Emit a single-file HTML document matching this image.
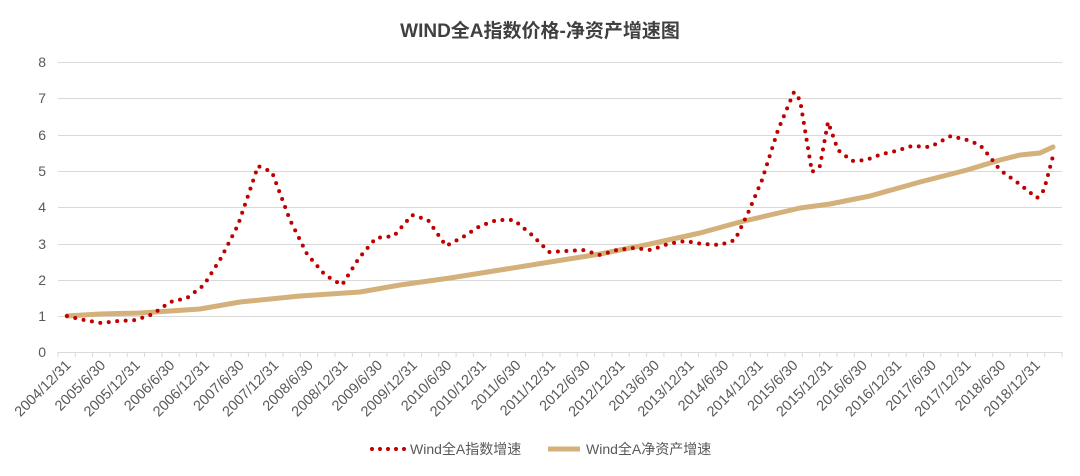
<!DOCTYPE html>
<html><head><meta charset="utf-8"><style>
body{margin:0;background:#fff;}
svg text{font-family:"Liberation Sans","Noto Sans CJK SC",sans-serif;fill:#595959;}
</style></head><body>
<svg width="1080" height="471" viewBox="0 0 1080 471" xmlns="http://www.w3.org/2000/svg">
<text x="540" y="37" text-anchor="middle" font-size="19" font-weight="bold" style="fill:#404040">WIND全A指数价格-净资产增速图</text>
<g stroke="#d9d9d9" stroke-width="1">
<line x1="58" x2="1062" y1="62.5" y2="62.5"/><line x1="58" x2="1062" y1="98.5" y2="98.5"/>
<line x1="58" x2="1062" y1="135.5" y2="135.5"/><line x1="58" x2="1062" y1="171.5" y2="171.5"/>
<line x1="58" x2="1062" y1="207.5" y2="207.5"/><line x1="58" x2="1062" y1="244.5" y2="244.5"/>
<line x1="58" x2="1062" y1="280.5" y2="280.5"/><line x1="58" x2="1062" y1="316.5" y2="316.5"/>
<line x1="58" x2="1062" y1="352.5" y2="352.5"/>
<path d="M58,352v5M75.3,352v5M92.6,352v5M109.9,352v5M127.2,352v5M144.6,352v5M161.9,352v5M179.2,352v5M196.5,352v5M213.8,352v5M231.1,352v5M248.4,352v5M265.7,352v5M283,352v5M300.3,352v5M317.7,352v5M335,352v5M352.3,352v5M369.6,352v5M386.9,352v5M404.2,352v5M421.5,352v5M438.8,352v5M456.1,352v5M473.4,352v5M490.8,352v5M508.1,352v5M525.4,352v5M542.7,352v5M560,352v5M577.3,352v5M594.6,352v5M611.9,352v5M629.2,352v5M646.6,352v5M663.9,352v5M681.2,352v5M698.5,352v5M715.8,352v5M733.1,352v5M750.4,352v5M767.7,352v5M785,352v5M802.3,352v5M819.7,352v5M837,352v5M854.3,352v5M871.6,352v5M888.9,352v5M906.2,352v5M923.5,352v5M940.8,352v5M958.1,352v5M975.4,352v5M992.8,352v5M1010.1,352v5M1027.4,352v5M1044.7,352v5M1062,352v5"/>
</g>
<g font-size="14" text-anchor="end">
<text x="46" y="67">8</text><text x="46" y="103">7</text><text x="46" y="140">6</text><text x="46" y="176">5</text>
<text x="46" y="212">4</text><text x="46" y="249">3</text><text x="46" y="285">2</text><text x="46" y="321">1</text><text x="46" y="357">0</text>
</g>
<g font-size="14.5" text-anchor="end">
<text transform="translate(71.7,366) rotate(-45)">2004/12/31</text>
<text transform="translate(106.3,366) rotate(-45)">2005/6/30</text>
<text transform="translate(140.9,366) rotate(-45)">2005/12/31</text>
<text transform="translate(175.5,366) rotate(-45)">2006/6/30</text>
<text transform="translate(210.1,366) rotate(-45)">2006/12/31</text>
<text transform="translate(244.8,366) rotate(-45)">2007/6/30</text>
<text transform="translate(279.4,366) rotate(-45)">2007/12/31</text>
<text transform="translate(314,366) rotate(-45)">2008/6/30</text>
<text transform="translate(348.6,366) rotate(-45)">2008/12/31</text>
<text transform="translate(383.2,366) rotate(-45)">2009/6/30</text>
<text transform="translate(417.9,366) rotate(-45)">2009/12/31</text>
<text transform="translate(452.5,366) rotate(-45)">2010/6/30</text>
<text transform="translate(487.1,366) rotate(-45)">2010/12/31</text>
<text transform="translate(521.7,366) rotate(-45)">2011/6/30</text>
<text transform="translate(556.3,366) rotate(-45)">2011/12/31</text>
<text transform="translate(590.9,366) rotate(-45)">2012/6/30</text>
<text transform="translate(625.6,366) rotate(-45)">2012/12/31</text>
<text transform="translate(660.2,366) rotate(-45)">2013/6/30</text>
<text transform="translate(694.8,366) rotate(-45)">2013/12/31</text>
<text transform="translate(729.4,366) rotate(-45)">2014/6/30</text>
<text transform="translate(764,366) rotate(-45)">2014/12/31</text>
<text transform="translate(798.7,366) rotate(-45)">2015/6/30</text>
<text transform="translate(833.3,366) rotate(-45)">2015/12/31</text>
<text transform="translate(867.9,366) rotate(-45)">2016/6/30</text>
<text transform="translate(902.5,366) rotate(-45)">2016/12/31</text>
<text transform="translate(937.1,366) rotate(-45)">2017/6/30</text>
<text transform="translate(971.7,366) rotate(-45)">2017/12/31</text>
<text transform="translate(1006.4,366) rotate(-45)">2018/6/30</text>
<text transform="translate(1041,366) rotate(-45)">2018/12/31</text>
</g>
<path fill="none" stroke="#d4b07a" stroke-width="5" stroke-linejoin="round" stroke-linecap="round" d="M67,316 L100,314 L140,313 L200,309 L240,302 L300,296 L330,294 L360,292 L400,285 L450,278 L500,270 L550,262 L600,254 L650,244 L700,233 L740,222 L770,215 L800,208 L830,204 L870,196 L920,182 L967,170 L1000,160 L1020,155 L1040,153 L1053,147"/>
<path fill="none" stroke="#c00000" stroke-width="4" stroke-linecap="round" stroke-dasharray="0 8.5" stroke-linejoin="round" d="M67,316 L84,320 L101,323 L118,321 L136,320 L153,314 L170,302 L187,298 L204,285 L221,258 L238,225 L250,190 L258,166 L272,172 L290,220 L307,254 L325,275 L342,285 L359,258 L376,238 L394,236 L412,215 L428,220 L446,246 L463,237 L480,226 L497,220 L514,220 L532,235 L549,252 L566,251 L583,250 L600,255 L617,250 L634,248 L651,250 L668,244 L685,241 L702,244 L720,245 L735,240 L748,213 L762,180 L778,130 L794,92 L800,100 L812,172 L820,166 L828,122 L838,150 L852,161 L866,160 L882,154 L896,151 L912,146 L930,147 L951,136 L967,140 L980,145 L990,157 L1000,170 L1018,183 L1037,198 L1044,190 L1053,156"/>
<g transform="translate(370,449)">
<line x1="2" x2="36" y1="0" y2="0" stroke="#c00000" stroke-width="4" stroke-linecap="round" stroke-dasharray="0 8"/>
<text x="40" y="5" font-size="14">Wind全A指数增速</text>
<line x1="178" x2="210" y1="0" y2="0" stroke="#d4b07a" stroke-width="5"/>
<text x="216" y="5" font-size="14">Wind全A净资产增速</text>
</g>
</svg>
</body></html>
